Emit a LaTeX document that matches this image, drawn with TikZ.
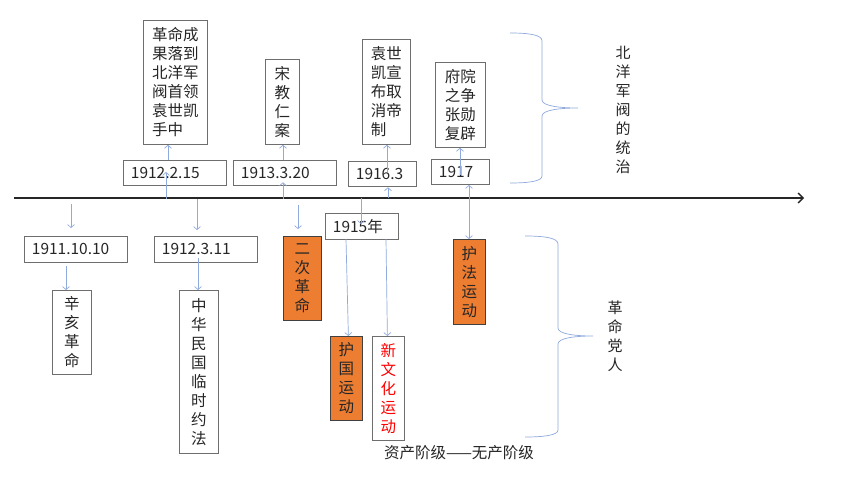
\documentclass[tikz,border=0pt]{standalone}
\usepackage{fontspec}
\setmainfont{Noto Sans CJK SC}
\usetikzlibrary{arrows.meta,calc}
\definecolor{connblue}{HTML}{8FAADC}
\definecolor{boxgray}{HTML}{6E6E6E}
\definecolor{orangefill}{HTML}{ED7D31}
\definecolor{txtgray}{HTML}{262626}
\definecolor{redtxt}{HTML}{FF0000}
\tikzset{
  box/.style={draw=boxgray, line width=0.8pt, rectangle, anchor=north west, text=txtgray,
    font=\fontsize{15.5}{19}\selectfont},
  datebox/.style={box, text width=#1, align=left, inner xsep=7.5pt, inner ysep=0pt, minimum height=25.5pt},
  colbox/.style 2 args={box, align=center, inner sep=0pt, minimum width=#1, minimum height=#2},
  orangebox/.style={fill=orangefill, draw=black!75},
  conn/.style={draw=connblue, line width=0.7pt, -{Straight Barb[length=3pt,width=7pt]}},
  dconn/.style={draw=connblue, line width=0.7pt, {Straight Barb[length=3pt,width=7pt]}-{Straight Barb[length=3pt,width=7pt]}},
  brace/.style={draw=connblue, line width=0.7pt},
  vlabel/.style={align=center, text=txtgray, inner sep=0pt, font=\fontsize{15}{19}\selectfont},
}
\begin{document}
\begin{tikzpicture}[x=1pt,y=-1pt]
\useasboundingbox (0,0) rectangle (860,484);
\fill[white] (0,0) rectangle (860,484);

% axis
\coordinate (axL) at (14,198);
\coordinate (axR) at (804,198);
\draw[line width=1.3pt, black!85, -{Straight Barb[length=5pt,width=10pt]}] (axL) -- (axR);

% date boxes
\node[datebox=88pt] (d1911) at (24,236) {1911.10.10};
\node[datebox=88pt] (d1912b) at (154,236) {1912.3.11};
\node[datebox=88pt] (d1912a) at (123,160) {1912.2.15};
\node[datebox=88pt] (d1913) at (233,160) {1913.3.20};
\node[datebox=53pt] (d1916) at (348,161) {1916.3};
\node[datebox=43pt] (d1917) at (431,159) {1917};
\node[datebox=58pt] (d1915) at (325,213) {1915年};

% upper event boxes
\node[colbox={64pt}{124pt}] (ev1) at (143,20) {革命成\\果落到\\北洋军\\阀首领\\袁世凯\\手中\hphantom{凯}};
\node[colbox={34pt}{85pt}] (ev2) at (265,59) {宋\\教\\仁\\案};
\node[colbox={48pt}{105pt}] (ev3) at (362,39) {袁世\\凯宣\\布取\\消帝\\制\hphantom{帝}};
\node[colbox={50pt}{85pt}] (ev4) at (435,62) {府院\\之争\\张勋\\复辟};

% lower event boxes
\node[colbox={39pt}{84pt}] (r1) at (52,290) {辛\\亥\\革\\命};
\node[colbox={39pt}{163pt}] (r2) at (179,290) {中\\华\\民\\国\\临\\时\\约\\法};
\node[colbox={38pt}{84pt}, orangebox] (r3) at (283,236) {二\\次\\革\\命};
\node[colbox={32pt}{84pt}, orangebox] (r4) at (330,336) {护\\国\\运\\动};
\node[colbox={32pt}{104pt}, text=redtxt] (r5) at (372,336) {新\\文\\化\\运\\动};
\node[colbox={32pt}{85pt}, orangebox] (r6) at (453,239) {护\\法\\运\\动};

% connectors
\coordinate (k1) at (71,204);
\draw[conn] (k1) -- ([yshift=8pt]k1 |- d1911.north);
\coordinate (k2) at (66,266);
\draw[conn] (k2) -- (k2 |- r1.north);
\coordinate (k3) at (197,199);
\draw[conn] (k3) -- ([yshift=6pt]k3 |- d1912b.north);
\coordinate (k4) at (198,258);
\draw[conn] (k4) -- (k4 |- r2.north);
\coordinate (k5) at (166,199);
\draw[conn] (k5) -- ([yshift=-12pt]k5 |- d1912a.north);
\coordinate (k6) at (168,160);
\draw[conn] (k6) -- (k6 |- ev1.south);
\coordinate (k7) at (283,199);
\draw[conn] (k7) -- ([yshift=4pt]k7 |- d1913.south);
\coordinate (k8) at (283,160);
\draw[conn] (k8) -- (k8 |- ev2.south);
\coordinate (k9) at (298,205);
\draw[conn] (k9) -- ([yshift=7pt]k9 |- r3.north);
\coordinate (k10) at (388,198);
\draw[conn] (k10) -- (k10 |- d1916.south);
\coordinate (k11) at (387,172);
\draw[conn] (k11) -- (k11 |- ev3.south);
\coordinate (k12) at (361,198);
\draw[conn] (k12) -- ([yshift=-11pt]k12 |- d1915.north);
\coordinate (k13) at (346,239);
\draw[conn] (k13) -- ($(r4.north)+(2,0)$);
\coordinate (k14) at (386,239);
\draw[conn] (k14) -- ($(r5.north)+(-1,0)$);
\coordinate (k15) at (460,175);
\draw[conn] (k15) -- (k15 |- ev4.south);
\coordinate (k16) at (469,185);
\draw[dconn] (k16) -- (k16 |- r6.north);

% braces
\draw[brace] (510,33) .. controls (530,33) and (542,35) .. (542,41) -- (542,100)
  .. controls (542,106) and (560,108) .. (578,108)
  .. controls (560,108) and (542,110) .. (542,116) -- (542,176)
  .. controls (542,181) and (530,183) .. (510,183);
\draw[brace] (525,236) .. controls (545,236) and (558,238) .. (558,244) -- (558,328)
  .. controls (558,334) and (575,336) .. (593,336)
  .. controls (575,336) and (558,338) .. (558,344) -- (558,430)
  .. controls (558,435) and (545,437) .. (525,437);

% labels
\node[vlabel] (lab1) at (623,110) {北\\洋\\军\\阀\\的\\统\\治};
\node[vlabel] (lab2) at (615,336) {革\\命\\党\\人};
\node[text=txtgray, inner sep=0pt, font=\fontsize{15.5}{19}\selectfont] (lab3) at (459,453) {资产阶级——无产阶级};
\end{tikzpicture}
\end{document}
